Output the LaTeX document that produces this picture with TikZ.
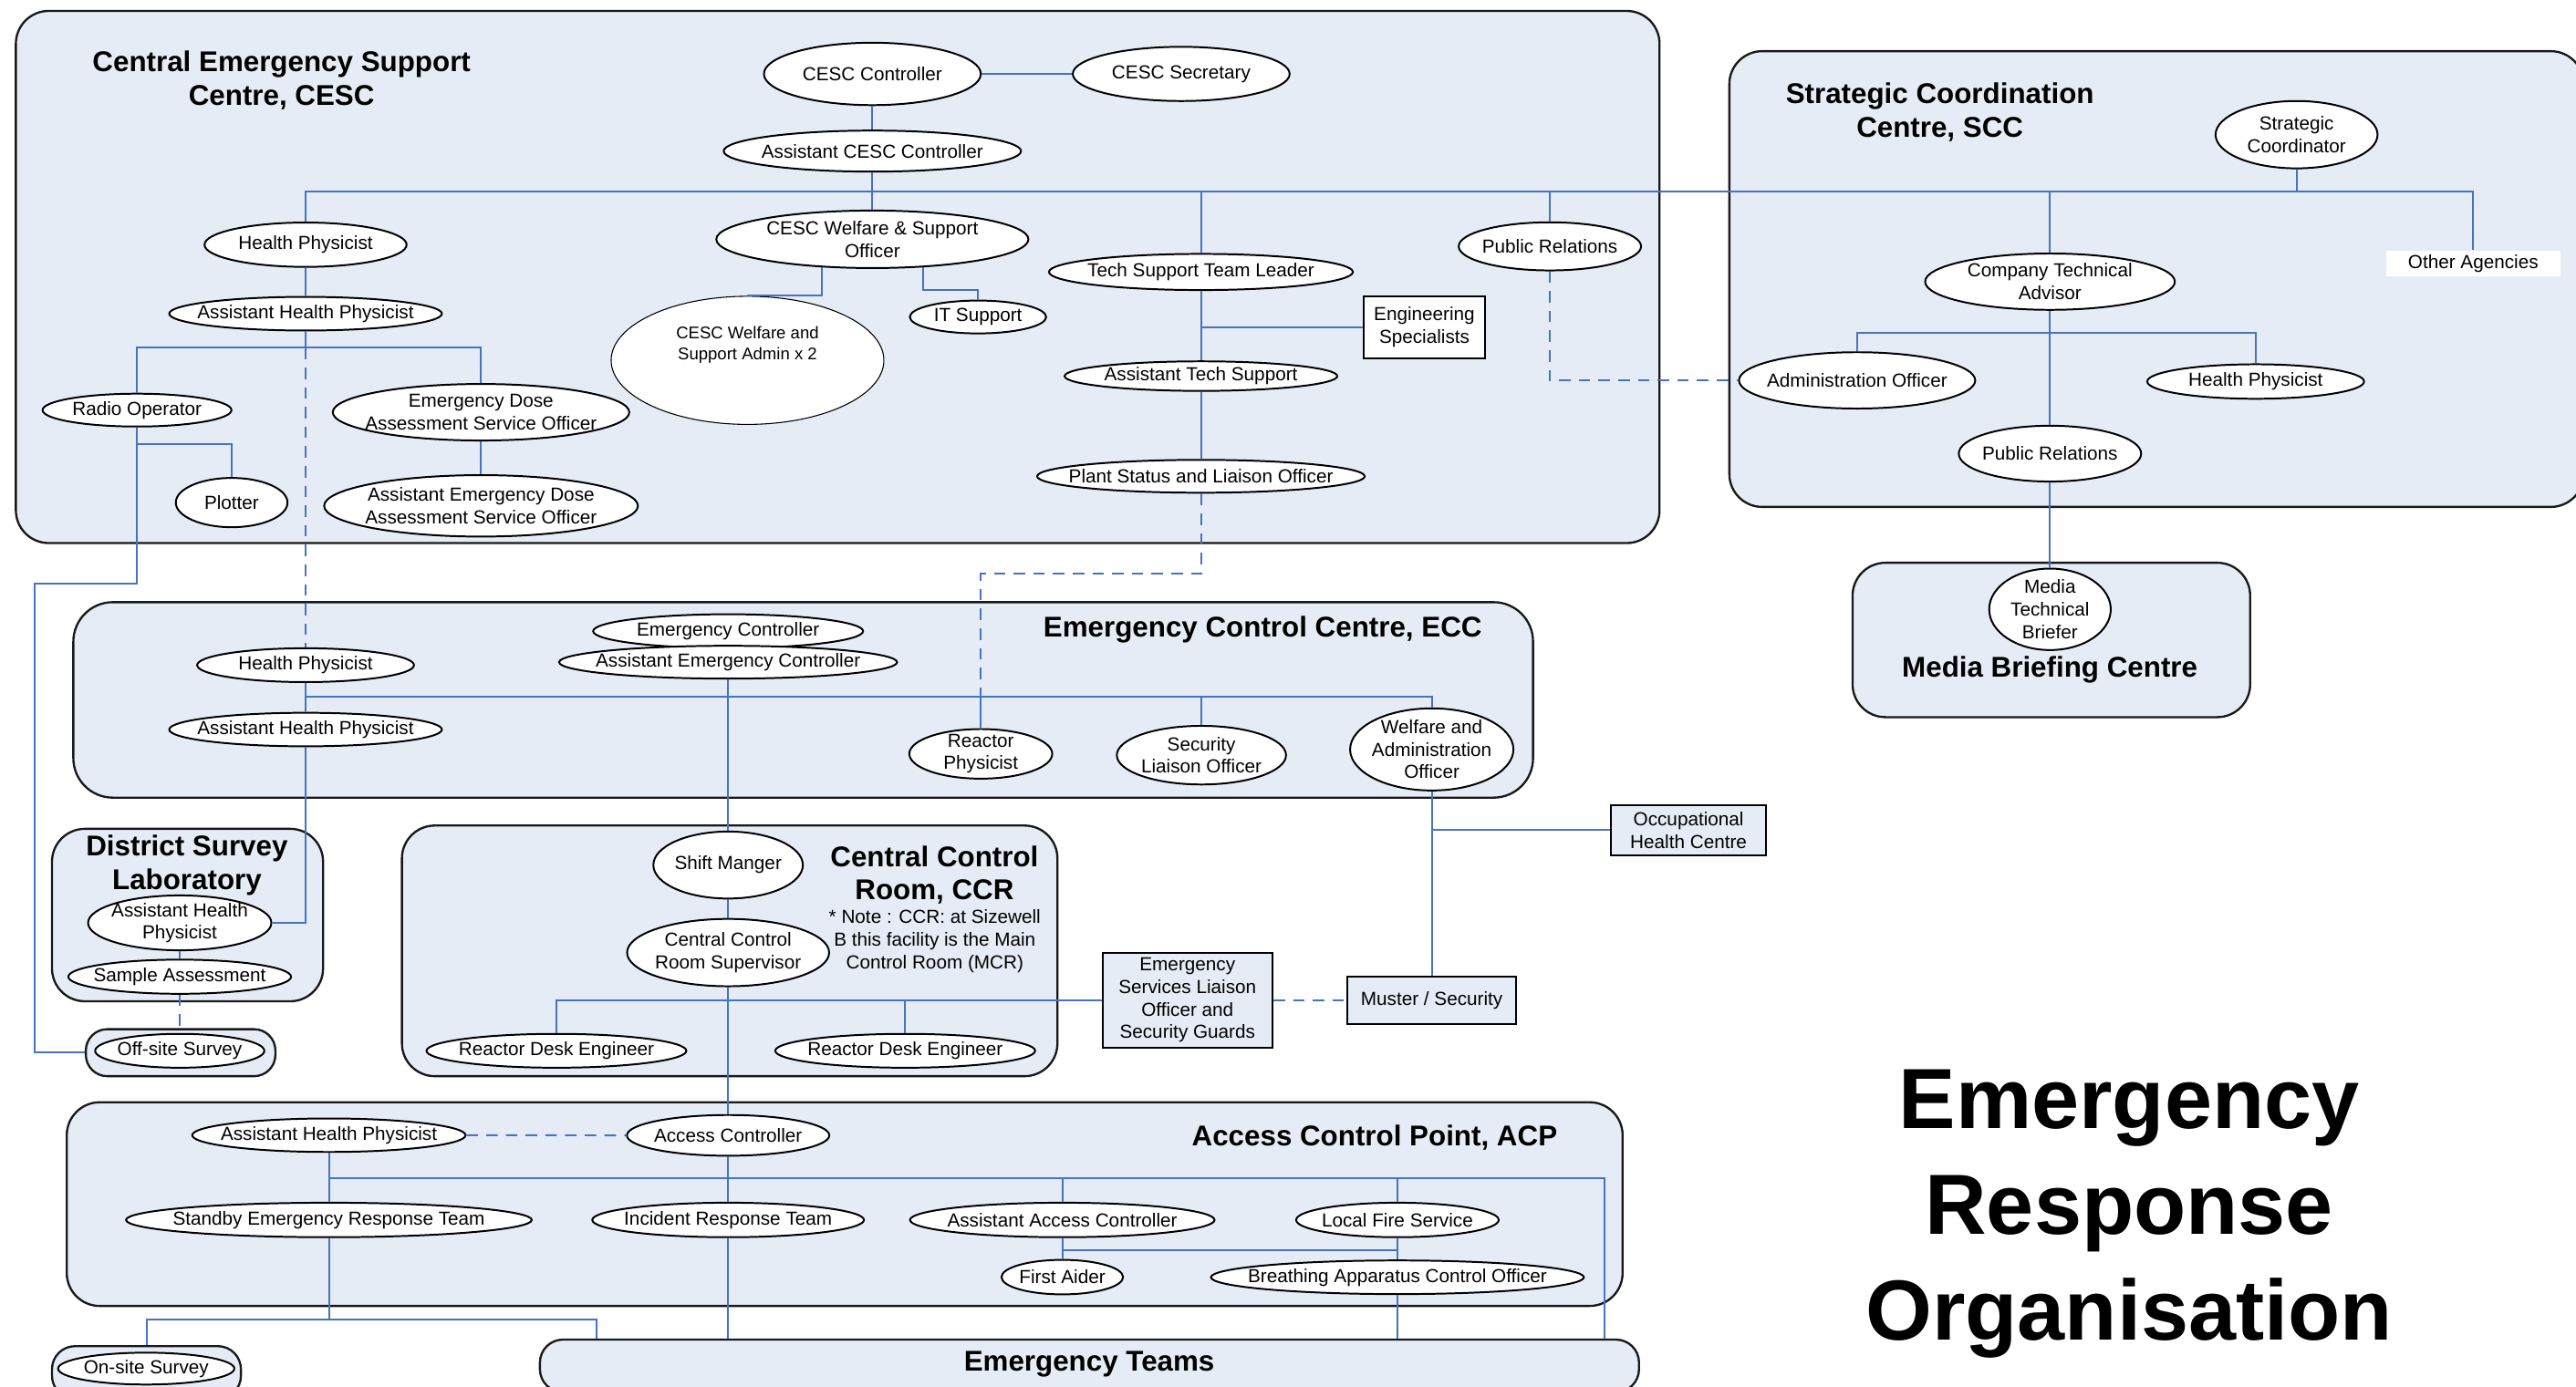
\documentclass[tikz,border=0pt]{standalone}
\usepackage{fontspec}
\setmainfont{Liberation Sans}
\usetikzlibrary{shapes.geometric}
\definecolor{zonefill}{RGB}{230,236,246}
\definecolor{linkblue}{RGB}{68,114,196}
\definecolor{zoneedge}{RGB}{25,25,25}
\newcommand{\rolefont}{\fontsize{11.5}{13.7}\selectfont}
\newcommand{\zonefont}{\fontsize{17.4}{20.5}\selectfont\bfseries}

\begin{document}
\begin{tikzpicture}[x=1pt, y=-1pt,
    zone/.style={draw=zoneedge, line width=1.3pt, fill=zonefill, rounded corners=20pt, inner sep=0pt, anchor=north west},
    role/.style={ellipse, draw=black, line width=1.1pt, fill=white, inner sep=0pt},
    post/.style={draw=black, line width=1.1pt, fill=zonefill, inner sep=0pt, align=center, font=\rolefont},
    heading/.style={font=\zonefont, align=center, inner sep=0pt},
    link/.style={draw=linkblue, line width=1.1pt},
    dlink/.style={link, dash pattern=on 7pt off 5pt},
    every label/.style={font=\rolefont, align=center, inner sep=0pt}]

\path[fill=white, use as bounding box] (0,0) rectangle (1568,844);

% centres
\node[zone, minimum width=1000.5pt, minimum height=324pt] (cescbox) at (9,6) {};
\node[zone, minimum width=520pt, minimum height=277.5pt] (sccbox) at (1052,30.5) {};
\node[zone, minimum width=242pt, minimum height=94pt] (mbcbox) at (1127,342) {};
\node[zone, minimum width=888.5pt, minimum height=119pt, rounded corners=24pt] (eccbox) at (44,366) {};
\node[zone, minimum width=165pt, minimum height=105pt] (dslbox) at (31,504) {};
\node[zone, minimum width=399pt, minimum height=152.6pt] (ccrbox) at (244,502) {};
\node[zone, minimum width=115.4pt, minimum height=28.6pt, rounded corners=13pt] (offbox) at (51.6,626) {};
\node[zone, minimum width=947pt, minimum height=124pt] (acpbox) at (40,670.5) {};
\node[zone, minimum width=115pt, minimum height=32pt, rounded corners=14pt] (onbox) at (31,819) {};
\node[zone, minimum width=669pt, minimum height=32pt, rounded corners=14pt] (etbox) at (328,815) {};

\node[heading] (cesctitle) at (171.4,49) {Central Emergency Support\\Centre, CESC};
\node[heading] (scctitle) at (1180.8,68.2) {Strategic Coordination\\Centre, SCC};
\node[heading, anchor=base] (mbctitle) at (1247.7,412.2) {Media Briefing Centre};
\node[heading, anchor=base] (ecctitle) at (768.6,388) {Emergency Control Centre, ECC};
\node[heading] (dsltitle) at (113.8,527) {District Survey\\Laboratory};
\node[heading] (ccrtitle) at (568.8,532.8) {Central Control\\Room, CCR};
\node[font=\rolefont, align=center, inner sep=0pt] (ccrnote) at (569,573) {* Note : CCR: at Sizewell\\B this facility is the Main\\Control Room (MCR)};
\node[heading, anchor=base] (acptitle) at (836.7,697.4) {Access Control Point, ACP};
\node[heading, anchor=base] (ettitle) at (663,834.7) {Emergency Teams};
\node[font=\fontsize{52}{64.3}\selectfont\bfseries, align=center, inner sep=0pt] (bigtitle) at (1296,739.2) {Emergency\\Response\\Organisation};

% CESC
\node[role, minimum width=132pt, minimum height=38pt, label=center:CESC Controller] (cescctrl) at (531,45) {};
\node[role, minimum width=132pt, minimum height=33pt, label=center:CESC Secretary] (cescsec) at (719,45) {};
\node[role, minimum width=181pt, minimum height=25pt, label=center:Assistant CESC Controller] (asstcesc) at (531,92) {};
\node[role, minimum width=190pt, minimum height=35pt, label=center:{CESC Welfare \& Support\\Officer}] (cescwelf) at (531,145.7) {};
\node[role, line width=0.6pt, minimum width=166pt, minimum height=78pt,
      label={[font=\fontsize{10.3}{12.3}\selectfont, yshift=9.4pt]center:{CESC Welfare and\\Support Admin x 2}}] (cescadmin) at (455,219.4) {};
\node[role, minimum width=83pt, minimum height=20pt, label=center:IT Support] (itsup) at (595.3,193) {};
\node[role, minimum width=123pt, minimum height=27pt, label=center:Health Physicist] (hp1) at (186,149) {};
\node[role, minimum width=166pt, minimum height=20.5pt, label=center:Assistant Health Physicist] (ahp1) at (186,191) {};
\node[role, minimum width=115pt, minimum height=20pt, label=center:Radio Operator] (radio) at (83.4,249.7) {};
\node[role, minimum width=68pt, minimum height=30pt, label=center:Plotter] (plotter) at (141,306) {};
\node[role, minimum width=180.5pt, minimum height=34.4pt, label=center:{Emergency Dose\\Assessment Service Officer}] (edaso) at (292.8,251) {};
\node[role, minimum width=191pt, minimum height=37.4pt, label=center:{Assistant Emergency Dose\\Assessment Service Officer}] (aedaso) at (292.8,308) {};
\node[role, minimum width=185pt, minimum height=22pt, label=center:Tech Support Team Leader] (tstl) at (731,165.6) {};
\node[post, fill=white, minimum width=74pt, minimum height=37.4pt] (engspec) at (867,199.3) {Engineering\\Specialists};
\node[role, minimum width=166pt, minimum height=18pt, label=center:Assistant Tech Support] (ats) at (731,229) {};
\node[role, minimum width=199.4pt, minimum height=20pt, label=center:Plant Status and Liaison Officer] (plant) at (731,290) {};
\node[role, minimum width=111pt, minimum height=29.3pt, label=center:Public Relations] (pr1) at (943.4,150) {};

% SCC
\node[role, minimum width=98.6pt, minimum height=41pt, label=center:{Strategic\\Coordinator}] (sc) at (1397.9,82) {};
\node[fill=white, minimum width=106pt, minimum height=16pt, inner sep=0pt, font=\rolefont] (other) at (1505.4,160.5) {Other Agencies};
\node[role, minimum width=152pt, minimum height=34.3pt, label=center:{Company Technical\\Advisor}] (cta) at (1247.8,171.5) {};
\node[role, minimum width=143.8pt, minimum height=34.3pt, label=center:Administration Officer] (admin) at (1130.4,231.6) {};
\node[role, minimum width=132pt, minimum height=21pt, label=center:Health Physicist] (hp2) at (1373,232.3) {};
\node[role, minimum width=111pt, minimum height=34pt, label=center:Public Relations] (pr2) at (1247.8,276.2) {};
\node[role, minimum width=74pt, minimum height=49.6pt, label=center:{Media\\Technical\\Briefer}] (mtb) at (1247.8,371) {};

% ECC
\node[role, minimum width=132pt, minimum height=20.6pt, label=center:Health Physicist] (hp3) at (186,405) {};
\node[role, minimum width=166pt, minimum height=20.4pt, label=center:Assistant Health Physicist] (ahp3) at (186,444.2) {};
\node[role, minimum width=164.3pt, minimum height=20.6pt, label=center:Emergency Controller] (ec) at (443.2,384.3) {};
\node[role, minimum width=205.7pt, minimum height=20pt, label=center:Assistant Emergency Controller] (aec) at (443.2,403.2) {};
\node[role, minimum width=87pt, minimum height=30.2pt, label=center:{Reactor\\Physicist}] (rp) at (597,459) {};
\node[role, minimum width=103pt, minimum height=35.7pt, label=center:{Security\\Liaison Officer}] (slo) at (731.3,459.8) {};
\node[role, minimum width=99.4pt, minimum height=50pt, label=center:{Welfare and\\Administration\\Officer}] (wao) at (871.5,456.3) {};
\node[post, minimum width=94.4pt, minimum height=31pt] (occ) at (1027.8,505.5) {Occupational\\Health Centre};
\node[post, minimum width=103pt, minimum height=29pt] (muster) at (871.5,609) {Muster / Security};
\node[post, minimum width=103.5pt, minimum height=58pt] (eslo) at (722.8,609) {Emergency\\Services Liaison\\Officer and\\Security Guards};

% DSL
\node[role, minimum width=111.6pt, minimum height=33.4pt, label=center:{Assistant Health\\Physicist}] (ahp4) at (109.4,561.9) {};
\node[role, minimum width=135.6pt, minimum height=20.8pt, label=center:Sample Assessment] (sample) at (109.4,594.7) {};
\node[role, minimum width=103pt, minimum height=20.6pt, label=center:Off-site Survey] (offsite) at (109.4,639.8) {};

% CCR
\node[role, minimum width=91pt, minimum height=40.8pt, label=center:Shift Manger] (shift) at (443.2,526.7) {};
\node[role, minimum width=123pt, minimum height=41pt, label=center:{Central Control\\Room Supervisor}] (ccrs) at (443.2,580) {};
\node[role, minimum width=158.2pt, minimum height=20.6pt, label=center:Reactor Desk Engineer] (rde1) at (338.7,639.8) {};
\node[role, minimum width=158.2pt, minimum height=20.6pt, label=center:Reactor Desk Engineer] (rde2) at (551,639.8) {};

% ACP
\node[role, minimum width=166.4pt, minimum height=20.4pt, label=center:Assistant Health Physicist] (ahp5) at (200.2,691.2) {};
\node[role, minimum width=123.2pt, minimum height=24.8pt, label=center:Access Controller] (acc) at (443.2,691.3) {};
\node[role, minimum width=247pt, minimum height=21pt, label=center:Standby Emergency Response Team] (sert) at (200.2,742.8) {};
\node[role, minimum width=165.4pt, minimum height=21pt, label=center:Incident Response Team] (irt) at (443.2,742.8) {};
\node[role, minimum width=185.4pt, minimum height=21pt, label=center:Assistant Access Controller] (aac) at (646.6,742.8) {};
\node[role, minimum width=123.3pt, minimum height=21pt, label=center:Local Fire Service] (lfs) at (850.6,742.8) {};
\node[role, minimum width=74pt, minimum height=21pt, label=center:First Aider] (fa) at (646.6,777.6) {};
\node[role, minimum width=227pt, minimum height=20.5pt, label=center:Breathing Apparatus Control Officer] (baco) at (850.6,777.7) {};
\node[role, minimum width=107.3pt, minimum height=19.4pt, label=center:On-site Survey] (onsite) at (89,833.3) {};

% connectors
\coordinate (cescbus) at (0,116.7);
\coordinate (hpbus) at (0,211.7);
\coordinate (radiobus) at (0,270.3);
\coordinate (radiorun) at (21.2,355.6);
\coordinate (plantrun) at (0,349.5);
\coordinate (ctabus) at (0,202.8);
\coordinate (eccbus) at (0,424);
\coordinate (acpbus) at (0,717.2);
\coordinate (fabus) at (0,761);
\coordinate (serbus) at (0,803.2);
\coordinate (etleft) at (363,815);
\coordinate (etright) at (976.8,815);

\draw[link] (cescctrl) -- (cescsec);
\draw[link] (cescctrl) -- (asstcesc);
\draw[link] (asstcesc) -- (cescwelf);
\draw[link] (hp1.north) -- (hp1.north |- cescbus) -- (other.north |- cescbus) -- (other.north);
\foreach \n in {tstl.north, pr1.north, cta.north, sc.south}
    \draw[link] (\n) -- (\n |- cescbus);
\draw[link] (hp1) -- (ahp1);
\draw[link] (ahp1.south) -- (ahp1.south |- hpbus);
\draw[link] (radio.north) |- (hpbus -| edaso.north) -- (edaso.north);
\draw[link] (edaso) -- (aedaso);
\draw[link] (radio.south) |- (radiobus -| plotter.north) -- (plotter.north);
\draw[link] (radio.south) |- (radiorun) |- (offbox.west);
\draw[link] (cescwelf.209) |- (cescadmin.north);
\draw[link] (cescwelf.-29) -- ++(0,14) -| (itsup.north);
\draw[link] (tstl) -- (ats);
\draw[link] (engspec.west) -- (engspec.west -| tstl.south);
\draw[link] (ats) -- (plant);
\draw[dlink] (plant.south) |- (plantrun -| rp.north) -- (eccbus -| rp.north);
\draw[dlink] (pr1.south) |- (admin.west);

\draw[link] (cta) -- (pr2);
\draw[link] (admin.north) |- (ctabus -| hp2.north) -- (hp2.north);
\draw[link] (pr2) -- (mtb);

\draw[dlink] (hpbus -| ahp1.south) -- (hp3.north);
\draw[link] (hp3) -- (ahp3);
\draw[link] (hp3.south |- eccbus) -| (wao.north);
\foreach \n in {rp.north, slo.north}
    \draw[link] (\n) -- (\n |- eccbus);
\draw[link] (aec) -- (shift);
\draw[link] (ahp3.south) |- (ahp4.east);
\draw[link] (wao) -- (muster);
\draw[link] (occ.west) -- (occ.west -| wao.south);
\draw[dlink] (eslo) -- (muster);

\draw[link] (ahp4) -- (sample);
\draw[dlink] (sample) -- (offsite);

\draw[link] (shift) -- (ccrs);
\draw[link] (ccrs) -- (acc);
\draw[link] (rde1.north) |- (eslo.west);
\draw[link] (rde2.north) -- (rde2.north |- eslo.west);

\draw[dlink] (ahp5) -- (acc);
\draw[link] (ahp5) -- (sert);
\draw[link] (acc) -- (irt);
\draw[link] (ahp5.south |- acpbus) -| (etright);
\foreach \n in {aac.north, lfs.north}
    \draw[link] (\n) -- (\n |- acpbus);
\draw[link] (aac) -- (fa);
\draw[link] (lfs) -- (baco);
\draw[link] (fabus -| aac.south) -- (fabus -| lfs.south);
\draw[link] (baco.south) -- (baco.south |- etbox.north);
\draw[link] (irt.south) -- (irt.south |- etbox.north);
\draw[link] (sert.south) -- (sert.south |- serbus);
\draw[link] (onbox.north) |- (serbus -| etleft) -- (etleft);
\end{tikzpicture}
\end{document}
